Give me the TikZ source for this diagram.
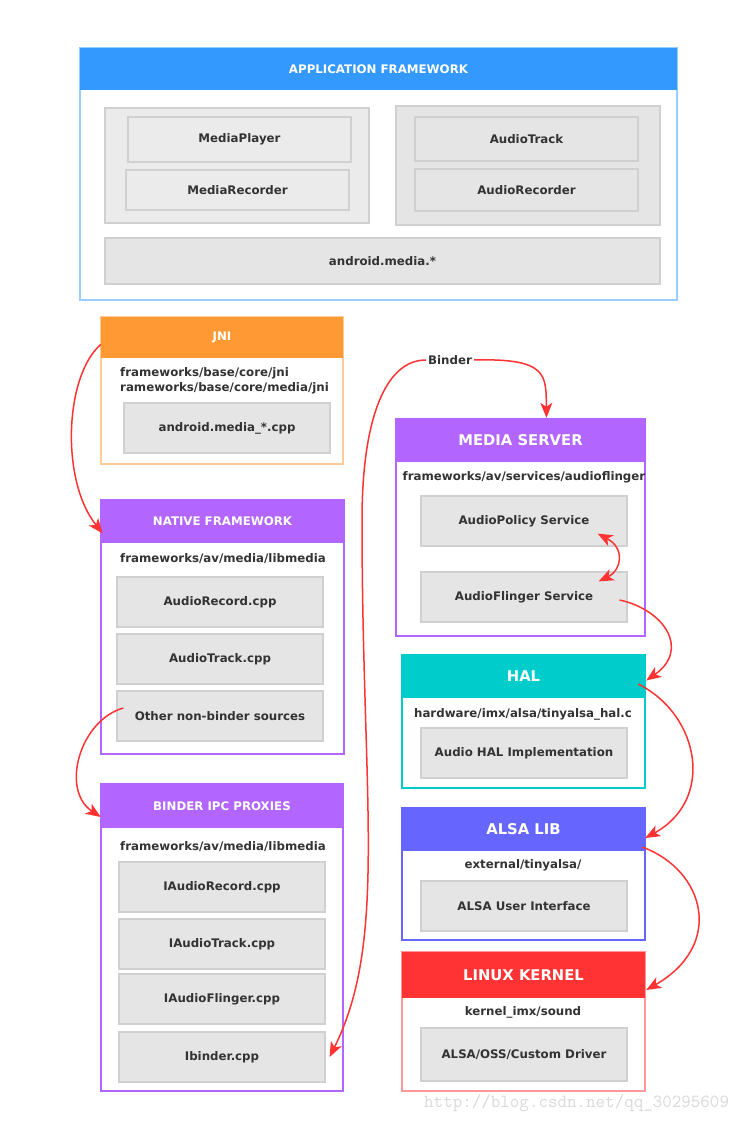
\documentclass[tikz,border=0pt]{standalone}
\usepackage{fontspec}
\setmainfont{DejaVu Sans}
\usetikzlibrary{arrows.meta, positioning, calc}
\definecolor{appblue}{HTML}{3399FF}
\definecolor{appline}{HTML}{99CCFF}
\definecolor{jniorange}{HTML}{FF9933}
\definecolor{jniline}{HTML}{FFCC99}
\definecolor{natpurple}{HTML}{B266FF}
\definecolor{halteal}{HTML}{00CCCC}
\definecolor{alsablue}{HTML}{6666FF}
\definecolor{kernred}{HTML}{FF3333}
\definecolor{kernline}{HTML}{FF9999}
\definecolor{itemfill}{HTML}{E5E5E5}
\definecolor{itemline}{HTML}{D0D0D0}
\definecolor{txt}{HTML}{333333}
\definecolor{arrowred}{HTML}{FF3333}

\begin{document}
\begin{tikzpicture}[
    x=1pt, y=-1pt,
    >={Stealth[length=15pt, width=12pt, inset=4pt]},
    every node/.style={font=\fontsize{11.8}{14.5}\selectfont\bfseries, text=txt, inner sep=0pt},
    frame/.style={draw=#1, line width=1.6pt, fill=white},
    head/.style={fill=#1, text=white},
    bighead/.style={fill=#1, text=white, font=\fontsize{14.8}{17}\selectfont\bfseries},
    item/.style={draw=itemline, fill=itemfill, line width=1.2pt, minimum width=206, minimum height=50},
    link/.style={draw=arrowred, line width=1.5pt, ->},
]
\useasboundingbox (0,0) rectangle (755,1124);

% ---------------- application framework
\node[frame=appline, minimum width=597, minimum height=252] (app) at (378.5,174) {};
\node[head=appblue, minimum width=597, minimum height=42] (apphead) at (378.5,69) {APPLICATION FRAMEWORK};
\node[draw=itemline, fill=black!8, line width=1.2pt, minimum width=264, minimum height=115] (grpl) at (237,165.5) {};
\node[draw=itemline, fill=black!8, line width=1.2pt, minimum width=223, minimum height=45] (mplayer) at (239.5,139.5) {MediaPlayer};
\node[draw=itemline, fill=black!8, line width=1.2pt, minimum width=223, minimum height=40] (mrec) at (237.5,190) {MediaRecorder};
\node[item, minimum width=264, minimum height=119] (grpr) at (528,165.5) {};
\node[item, minimum width=223, minimum height=44] (atrack) at (526.5,139) {AudioTrack};
\node[item, minimum width=223, minimum height=42] (arec) at (526.5,190) {AudioRecorder};
\node[item, minimum width=555, minimum height=46] (amedia) at (382.5,261) {android.media.*};

% ---------------- jni
\node[frame=jniline, minimum width=242, minimum height=147] (jni) at (222,390.5) {};
\node[head=jniorange, minimum width=242, minimum height=41] (jnihead) at (222,337.5) {JNI};
\node[anchor=west, align=left] (jnipath) at (120,381) {frameworks/base/core/jni\\rameworks/base/core/media/jni};
\node[item] (ampcpp) at (227,428) {android.media\_*.cpp};

% ---------------- native framework
\node[frame=natpurple, minimum width=243, minimum height=254] (native) at (222.5,627) {};
\node[head=natpurple, minimum width=243, minimum height=43] (nativehead) at (222.5,521.5) {NATIVE FRAMEWORK};
\node (nativepath) at (223,559) {frameworks/av/media/libmedia};
\node[item] (arcpp) at (220,602) {AudioRecord.cpp};
\node[item] (atcpp) at (220,659) {AudioTrack.cpp};
\node[item] (other) at (220,716) {Other non-binder sources};

% ---------------- binder ipc proxies
\node[frame=natpurple, minimum width=242, minimum height=307] (proxy) at (222,937.5) {};
\node[head=natpurple, minimum width=242, minimum height=44] (proxyhead) at (222,806) {BINDER IPC PROXIES};
\node (proxypath) at (223,847) {frameworks/av/media/libmedia};
\node[item] (iarec) at (222,887) {IAudioRecord.cpp};
\node[item] (iatrack) at (222,944) {IAudioTrack.cpp};
\node[item] (iaflinger) at (222,999) {IAudioFlinger.cpp};
\node[item] (ibinder) at (222,1057) {Ibinder.cpp};

% ---------------- media server
\node[frame=natpurple, minimum width=249, minimum height=217] (mserver) at (520.5,527.5) {};
\node[bighead=natpurple, minimum width=249, minimum height=43] (mserverhead) at (520.5,440.5) {MEDIA SERVER};
\node (mserverpath) at (524,477) {frameworks/av/services/audioflinger};
\node[item] (policy) at (524,521) {AudioPolicy Service};
\node[item] (flinger) at (524,597) {AudioFlinger Service};

% ---------------- hal
\node[frame=halteal, minimum width=243, minimum height=133] (hal) at (523.5,721.5) {};
\node[bighead=halteal, minimum width=243, minimum height=43] (halhead) at (523.5,676.5) {HAL};
\node (halpath) at (523,714) {hardware/imx/alsa/tinyalsa\_hal.c};
\node[item] (halimpl) at (524,753) {Audio HAL Implementation};

% ---------------- alsa lib
\node[frame=alsablue, minimum width=243, minimum height=132] (alsa) at (523.5,874) {};
\node[bighead=alsablue, minimum width=243, minimum height=43] (alsahead) at (523.5,829.5) {ALSA LIB};
\node (alsapath) at (523,865) {external/tinyalsa/};
\node[item] (alsaui) at (524,906) {ALSA User Interface};

% ---------------- linux kernel
\node[frame=kernline, minimum width=243, minimum height=139] (kern) at (523.5,1021.5) {};
\node[bighead=kernred, minimum width=243, minimum height=46] (kernhead) at (523.5,975) {LINUX KERNEL};
\node (kernpath) at (523,1012) {kernel\_imx/sound};
\node[item, minimum height=53] (driver) at (524,1054.5) {ALSA/OSS/Custom Driver};

% ---------------- connectors
\node[inner xsep=2pt] (binder) at (450,360) {Binder};
\draw[link] ($(jnihead.west)+(0,7)$) .. controls (65,375) and (60,480) .. ($(nativehead.west)+(2,12)$);
\draw[link] ($(other.west)+(7,-8)$) .. controls (80,720) and (60,790) .. ($(proxyhead.west)+(0,11)$);
\draw[link] (binder.west) .. controls (385,360) and (362,420) .. (362,520)
    .. controls (362,800) and (388,940) .. ($(ibinder.east)+(4,0)$);
\draw[link] (binder.east) .. controls (548,358) and (546,375) .. ($(mserverhead.north)+(26,-1)$);
\draw[link, <->]
    ($(policy.south east)+(-30,-13)$) .. controls (625,548) and (622,570) .. ($(flinger.north east)+(-29,10)$);
\draw[link] ($(flinger.east)+(-8,3)$) .. controls (665,610) and (690,650) .. ($(halhead.east)+(1,4)$);
\draw[link] ($(halhead.east)+(-7,7.5)$) .. controls (700,715) and (715,800) .. ($(alsahead.east)+(0,8.5)$);
\draw[link] ($(alsahead.east)+(-3,17.5)$) .. controls (705,870) and (725,945) .. ($(kernhead.east)+(1,15)$);

\node[font=\fontsize{18.5}{20}\selectfont\ttfamily, text=black!15, anchor=west] (mark) at (424,1103) {http://blog.csdn.net/qq\_30295609};
\end{tikzpicture}
\end{document}
